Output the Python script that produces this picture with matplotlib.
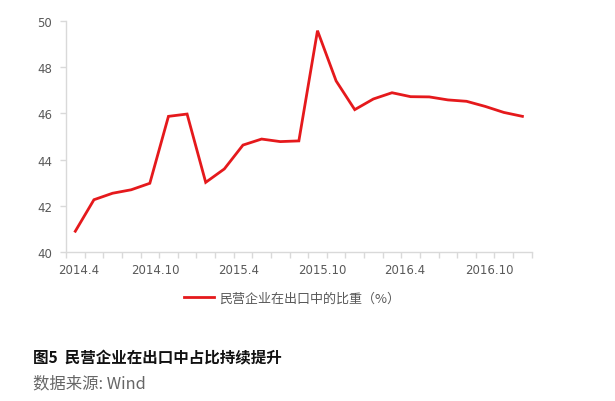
import numpy as np
import matplotlib
matplotlib.use('Agg')
import matplotlib.pyplot as plt

plt.rcParams['font.family'] = ['Noto Sans CJK SC', 'DejaVu Sans']

# share of private enterprises in exports (%), 25 points
share = [40.91, 42.27, 42.55, 42.70, 42.98, 45.87, 45.97, 43.02, 43.60, 44.63,
         44.89, 44.78, 44.81, 49.57, 47.40, 46.16, 46.62, 46.89, 46.72, 46.71,
         46.58, 46.52, 46.30, 46.04, 45.87]
x_labels = ['2014.4', '2014.10', '2015.4', '2015.10', '2016.4', '2016.10']
label_pos = [0.16, 4.28, 8.75, 13.28, 17.70, 22.2]
y_ticks = [40, 42, 44, 46, 48, 50]

gray = '#595959'
axis_col = '#d9d9d9'

fig = plt.figure(figsize=(6.15, 4.02), dpi=100)
ax = fig.add_axes([0.1073, 0.3699, 0.7573, 0.5761])

x = np.arange(len(share))
ax.plot(x, share, color='#e5191c', lw=2.0, label='民营企业在出口中的比重（%）',
        solid_joinstyle='miter')

ax.set_xlim(-0.5, len(share) - 0.5)
ax.set_ylim(40, 50)
ax.set_yticks(y_ticks)
ax.set_yticklabels([str(v) for v in y_ticks], family='DejaVu Sans', fontsize=8.5, color=gray)

ax.set_xticks(label_pos)
ax.set_xticklabels(x_labels, family='DejaVu Sans', fontsize=8.5, color=gray)
ax.set_xticks(np.arange(-0.5, len(share), 1.0), minor=True)
ax.tick_params(axis='x', which='major', length=0, pad=8)
ax.tick_params(axis='x', which='minor', length=4, color=axis_col, width=1)
ax.tick_params(axis='y', length=4, color=axis_col, width=1, pad=6)

for s in ['top', 'right']:
    ax.spines[s].set_visible(False)
for s in ['left', 'bottom']:
    ax.spines[s].set_color(axis_col)
    ax.spines[s].set_linewidth(1)

leg = ax.legend(loc='center', bbox_to_anchor=(0.475, 0.256), bbox_transform=fig.transFigure,
                frameon=False, fontsize=9.4, handlelength=2.3, handletextpad=0.4)
for t in leg.get_texts():
    t.set_color(gray)

fig.text(0.054, 0.109, '图5  民营企业在出口中占比持续提升', fontsize=11.2,
         fontweight='bold', color='#111111', va='center')
fig.text(0.054, 0.045, '数据来源: Wind', fontsize=11.8, color='#666666', va='center')

fig.savefig('out.png', dpi=100)
